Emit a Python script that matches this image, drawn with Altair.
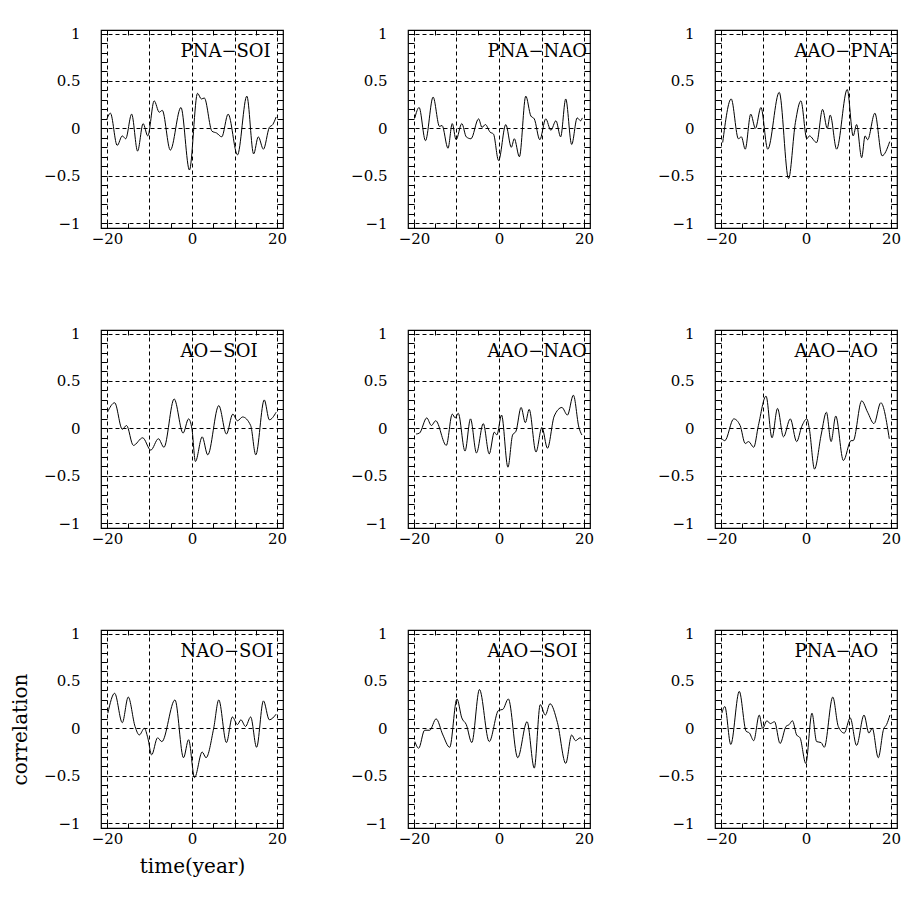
import altair as alt
import pandas as pd

FONT = "DejaVu Serif"

labels = ["PNA−SOI", "PNA−NAO", "AAO−PNA",
          "AO−SOI", "AAO−NAO", "AAO−AO",
          "NAO−SOI", "AAO−SOI", "PNA−AO"]

pna_soi_x = [-20, -19.2, -17.6, -16.4, -15.6, -14.2, -12.8, -11.5, -10.4, -8.9, -7.7, -7.0, -5.1, -2.6, -0.6, 1.3, 2.2, 2.9, 4.7, 5.8, 7.0, 8.5, 10.7, 12.9, 14.5, 15.6, 16.8, 18.2, 19.0, 19.8]
pna_soi_y = [0.10, 0.16, -0.18, -0.08, -0.11, 0.15, -0.24, 0.05, -0.08, 0.29, 0.17, 0.19, -0.23, 0.22, -0.44, 0.37, 0.31, 0.32, -0.03, -0.05, -0.09, 0.15, -0.28, 0.34, -0.27, -0.09, -0.22, 0.01, 0.04, 0.12]

pna_nao_x = [-19.8, -18.8, -17.3, -15.5, -14.0, -13.4, -12.0, -11.0, -10.1, -8.75, -7.7, -6.6, -4.8, -4.0, -3.2, -2.1, -1.3, -0.1, 1.6, 2.9, 3.6, 4.8, 6.3, 7.5, 8.3, 9.6, 11.0, 12.2, 13.4, 14.5, 15.7, 17.1, 18.4, 19.2, 19.6]
pna_nao_y = [0.11, 0.22, -0.13, 0.33, 0.02, 0.03, -0.21, 0.05, -0.12, 0.05, -0.09, -0.11, 0.10, 0.01, 0.04, -0.04, -0.06, -0.34, 0.04, -0.20, -0.11, -0.30, 0.34, 0.13, 0.10, -0.12, 0.10, -0.02, 0.08, -0.09, 0.31, -0.17, 0.11, 0.08, 0.11]

aao_pna_x = [-19.6, -17.6, -15.9, -15.2, -14.3, -13.0, -11.9, -10.6, -9.0, -6.3, -4.1, -2.5, -1.2, 0.2, 0.8, 2.5, 3.9, 5.0, 5.7, 7.2, 9.7, 11.1, 11.9, 13.1, 13.9, 14.5, 16.2, 17.9, 19.7]
aao_pna_y = [-0.15, 0.31, -0.11, -0.09, -0.22, 0.15, 0.0, 0.22, -0.22, 0.38, -0.53, 0.06, 0.29, -0.11, -0.08, -0.15, 0.20, 0.0, 0.14, -0.22, 0.41, -0.08, 0.04, -0.31, -0.08, -0.12, 0.16, -0.29, -0.14]

ao_soi_x = [-19.9, -18.2, -16.4, -15.4, -13.8, -11.6, -9.7, -7.9, -6.6, -4.2, -2.1, -0.8, 0.0, 0.8, 2.4, 3.7, 6.3, 8.1, 9.6, 10.7, 11.9, 13.8, 15.0, 17.0, 18.2, 19.8]
ao_soi_y = [0.17, 0.27, -0.01, 0.03, -0.18, -0.10, -0.23, -0.11, -0.20, 0.31, -0.05, 0.10, -0.01, -0.35, -0.09, -0.28, 0.24, -0.06, 0.15, 0.08, 0.12, 0.03, -0.28, 0.30, 0.09, 0.17]

aao_nao_x = [-19.5, -18.7, -17.0, -15.9, -14.9, -12.4, -11.0, -10.3, -9.6, -8.0, -6.7, -5.3, -3.7, -2.3, -1.1, -0.5, 0.6, 2.1, 3.2, 4.0, 5.2, 6.2, 7.1, 8.7, 10.1, 11.4, 13.0, 14.8, 16.1, 17.5, 18.8, 19.5]
aao_nao_y = [-0.06, -0.05, 0.11, 0.03, 0.08, -0.18, 0.15, 0.11, 0.16, -0.24, 0.10, -0.26, 0.05, -0.27, -0.04, -0.07, 0.14, -0.41, -0.07, -0.03, 0.22, 0.06, 0.20, -0.25, 0.01, -0.21, 0.13, 0.22, 0.14, 0.35, 0.01, -0.07]

aao_ao_x = [-19.8, -19.1, -17.0, -15.5, -14.3, -13.5, -12.3, -11.2, -9.4, -8.0, -6.7, -5.3, -3.7, -2.2, -1.0, 0.2, 0.8, 2.0, 3.6, 4.8, 5.9, 7.0, 8.8, 10.6, 11.1, 13.1, 14.5, 16.0, 17.6, 19.6]
aao_ao_y = [-0.11, -0.13, 0.10, 0.03, -0.16, -0.14, -0.20, 0.03, 0.34, -0.10, 0.21, -0.09, 0.10, -0.14, 0.02, 0.10, -0.01, -0.43, -0.06, 0.17, -0.14, 0.13, -0.34, -0.13, -0.13, 0.29, 0.17, 0.05, 0.27, -0.11]

nao_soi_x = [-19.8, -18.2, -16.4, -15.0, -13.4, -12.4, -11.2, -10.4, -9.5, -8.1, -7.1, -4.0, -2.0, -0.8, 0.6, 2.4, 3.3, 5.1, 6.3, 8.1, 9.5, 10.7, 11.5, 12.6, 13.8, 15.2, 16.8, 18.2, 19.8]
nao_soi_y = [0.16, 0.37, 0.06, 0.33, 0.02, -0.07, 0.0, -0.10, -0.28, -0.10, -0.14, 0.30, -0.31, -0.12, -0.52, -0.25, -0.31, 0.0, 0.30, -0.15, 0.12, 0.04, 0.09, 0.02, 0.12, -0.20, 0.29, 0.09, 0.15]

aao_soi_x = [-19.8, -18.9, -17.5, -16.3, -14.8, -13.2, -11.6, -9.9, -8.75, -7.7, -6.4, -4.6, -2.3, -0.1, 0.9, 2.2, 4.4, 6.6, 8.3, 9.7, 10.9, 12.0, 13.75, 15.7, 17.1, 18.0, 19.1, 19.5]
aao_soi_y = [-0.14, -0.21, -0.02, -0.02, 0.10, -0.07, -0.20, 0.31, 0.11, 0.04, -0.15, 0.41, -0.14, 0.19, 0.20, 0.31, -0.31, 0.07, -0.42, 0.25, 0.14, 0.26, 0.06, -0.37, -0.07, -0.13, -0.10, -0.12]

pna_ao_x = [-19.8, -19.1, -17.7, -15.7, -14.1, -13.3, -12.3, -11.0, -10.2, -9.2, -8.4, -7.4, -6.1, -4.7, -3.95, -3.2, -2.2, -1.4, -0.05, 1.4, 2.5, 3.55, 4.3, 6.3, 7.6, 9.0, 10.4, 11.9, 13.65, 14.8, 15.6, 17.0, 18.25, 18.96, 19.75]
pna_ao_y = [0.16, 0.23, -0.17, 0.39, -0.03, -0.05, -0.13, 0.14, 0.0, 0.08, 0.05, 0.07, -0.16, 0.02, 0.04, 0.08, -0.07, -0.10, -0.37, 0.16, -0.14, -0.15, -0.20, 0.33, 0.02, -0.05, 0.11, -0.18, 0.14, -0.05, 0.0, -0.31, -0.01, 0.04, 0.14]

series = [(pna_soi_x, pna_soi_y), (pna_nao_x, pna_nao_y), (aao_pna_x, aao_pna_y),
          (ao_soi_x, ao_soi_y), (aao_nao_x, aao_nao_y), (aao_ao_x, aao_ao_y),
          (nao_soi_x, nao_soi_y), (aao_soi_x, aao_soi_y), (pna_ao_x, pna_ao_y)]

x_grid = [-20, -10, 0, 10, 20]
y_grid = [-1, -0.5, 0, 0.5, 1]
x_ticks = [-20, -15, -10, -5, 0, 5, 10, 15, 20]
y_ticks = [round(-1 + 0.1 * i, 1) for i in range(21)]

W, H = 182, 198
xs = alt.Scale(domain=[-21.41, 21.41], nice=False, zero=False)
ys = alt.Scale(domain=[-1.052, 1.038], nice=False, zero=False)


def tick_axis(orient, offset, values, size):
    return alt.Axis(orient=orient, offset=offset, values=values, tickSize=size,
                    ticks=True, labels=False, domain=False, grid=False, title=None,
                    tickColor="black", tickWidth=1)


def panel(i):
    xv, yv = series[i]
    df = pd.DataFrame({"x": xv, "y": yv})
    bottom_left = (i == 6)
    main = alt.Chart(df).mark_line(color="black", strokeWidth=1, interpolate="monotone").encode(
        x=alt.X("x:Q", scale=xs, axis=alt.Axis(
            orient="bottom", values=x_grid, grid=True, ticks=False, domain=False,
            labelExpr="abs(datum.value) == 10 ? '' : format(datum.value, 'd')",
            labelPadding=3, labelFlush=False,
            title="time(year)" if bottom_left else None, titlePadding=10)),
        y=alt.Y("y:Q", scale=ys, axis=alt.Axis(
            orient="left", values=y_grid, grid=True, ticks=False, domain=False,
            labelExpr="format(datum.value, '~g')", labelPadding=21, labelFlush=False,
            title="correlation" if bottom_left else None, titlePadding=13)),
    )
    lab = alt.Chart(pd.DataFrame({"label": [labels[i]]})).mark_text(
        align="left", baseline="alphabetic", font=FONT, fontSize=18, color="black"
    ).encode(
        x=alt.XDatum(-2.7, scale=xs, axis=None),
        y=alt.YDatum(0.75, scale=ys, axis=None),
        text="label:N",
    )
    t1 = alt.Chart(df).mark_line(opacity=0).encode(
        x=alt.X("x:Q", scale=xs, axis=tick_axis("top", -H, x_ticks, 5)),
        y=alt.Y("y:Q", scale=ys, axis=tick_axis("right", -W, y_ticks, 6)),
    )
    t2 = alt.Chart(df).mark_line(opacity=0).encode(
        x=alt.X("x:Q", scale=xs, axis=tick_axis("bottom", -H, x_ticks, 5)),
        y=alt.Y("y:Q", scale=ys, axis=tick_axis("left", -W, y_ticks, 6)),
    )
    return alt.layer(main, t1, t2, lab).resolve_axis(x="independent", y="independent").properties(
        width=W, height=H)


chart = alt.concat(*[panel(i) for i in range(9)], columns=3).properties(
    spacing={"row": 102, "column": 125},
    bounds="flush",
    padding={"left": 1, "top": 17, "right": 5, "bottom": 5},
    background="white",
).configure_view(
    stroke="black", strokeWidth=1.2
).configure_axis(
    labelFont=FONT, labelFontSize=15, labelColor="black",
    titleFont=FONT, titleFontSize=20, titleColor="black", titleFontWeight="normal",
    gridColor="black", gridDash=[4, 3], gridWidth=1, gridOpacity=1,
)

chart.save("out.html", embed_options={"renderer": "svg", "actions": False})
